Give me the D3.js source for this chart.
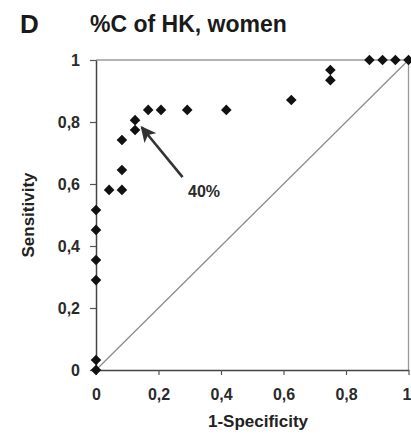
<!DOCTYPE html>
<html>
<head>
<meta charset="utf-8">
<script src="https://cdn.jsdelivr.net/npm/d3@7"></script>
<style>
  html, body { margin: 0; padding: 0; background: #fff; }
  svg { display: block; font-family: "Liberation Sans", Arial, sans-serif; }
</style>
</head>
<body>
<svg id="chart" width="411" height="434"></svg>
<script>
// ---- data ----
const fpr = [0, 0, 0, 0, 0, 0, 0.042, 0.083, 0.083, 0.083, 0.125, 0.125, 0.167, 0.208, 0.292, 0.417, 0.625, 0.75, 0.75, 0.875, 0.917, 0.958, 1];
const tpr = [0, 0.032, 0.290, 0.355, 0.452, 0.516, 0.581, 0.581, 0.645, 0.742, 0.774, 0.806, 0.839, 0.839, 0.839, 0.839, 0.871, 0.935, 0.968, 1, 1, 1, 1];
const ticks = [0, 0.2, 0.4, 0.6, 0.8, 1];
const tickLabels = ["0", "0,2", "0,4", "0,6", "0,8", "1"];
const panelLetter = "D";
const title = "%C of HK, women";
const xTitle = "1-Specificity";
const yTitle = "Sensitivity";
const annotationText = "40%";
const arrowFrom = [0.277, 0.622];
const arrowTo = [0.146, 0.783];

// ---- layout ----
const svg = d3.select("#chart");
const x = d3.scaleLinear().domain([0, 1]).range([96, 408.5]);
const y = d3.scaleLinear().domain([0, 1]).range([370, 60]);
const fmt = d => tickLabels[ticks.indexOf(d)];

// frame (top & right)
svg.append("path")
  .attr("d", `M${x(0)},${y(1)}H${x(1)}V${y(0)}`)
  .attr("fill", "none").attr("stroke", "#9a9a9a").attr("stroke-width", 1.3);

// diagonal
svg.append("line")
  .attr("x1", x(0)).attr("y1", y(0)).attr("x2", x(1)).attr("y2", y(1))
  .attr("stroke", "#8a8a8a").attr("stroke-width", 1.2);

// axes
const xAxis = svg.append("g").attr("transform", `translate(0,${y(0)})`)
  .call(d3.axisBottom(x).tickValues(ticks).tickFormat(fmt).tickSizeInner(5).tickSizeOuter(0).tickPadding(14));
const yAxis = svg.append("g").attr("transform", `translate(${x(0)},0)`)
  .call(d3.axisLeft(y).tickValues(ticks).tickFormat(fmt).tickSizeInner(6).tickSizeOuter(0).tickPadding(10));
[xAxis, yAxis].forEach(g => {
  g.select(".domain").attr("stroke", "#444").attr("stroke-width", 1.5);
  g.selectAll(".tick line").attr("stroke", "#555").attr("stroke-width", 1.2);
  g.selectAll(".tick text").attr("fill", "#2a2a2a").attr("font-size", 16).attr("font-weight", "bold")
    .attr("font-family", "'Liberation Sans', Arial, sans-serif");
});
yAxis.selectAll(".tick text").attr("dy", "0.36em");
// keep the last x label inside the picture
xAxis.selectAll(".tick text").filter(d => d === 1).attr("text-anchor", "end").attr("x", 411 - x(1));

// axis titles
svg.append("text").attr("x", 258).attr("y", 427).attr("text-anchor", "middle")
  .attr("font-size", 17).attr("font-weight", "bold").attr("fill", "#222").text(xTitle);
svg.append("text").attr("transform", `translate(34,${(y(0) + y(1)) / 2}) rotate(-90)`)
  .attr("text-anchor", "middle")
  .attr("font-size", 17).attr("font-weight", "bold").attr("fill", "#222").text(yTitle);

// titles
svg.append("text").attr("x", 20).attr("y", 33)
  .attr("font-size", 26).attr("font-weight", "bold").attr("fill", "#1a1a1a").text(panelLetter);
svg.append("text").attr("x", 90).attr("y", 32)
  .attr("font-size", 23).attr("font-weight", "bold").attr("fill", "#1a1a1a").text(title);

// points
const sym = d3.symbol().type(d3.symbolSquare).size(56);
svg.append("g").selectAll("path").data(fpr.map((v, i) => [v, tpr[i]])).join("path")
  .attr("d", sym)
  .attr("transform", d => `translate(${x(d[0])},${y(d[1])}) rotate(45)`)
  .attr("fill", "#111");

// arrow annotation
svg.append("defs").append("marker")
  .attr("id", "ah").attr("viewBox", "0 0 10 10").attr("refX", 9).attr("refY", 5)
  .attr("markerWidth", 6).attr("markerHeight", 6).attr("markerUnits", "strokeWidth")
  .attr("orient", "auto")
  .append("path").attr("d", "M0,0L10,5L0,10L2.5,5Z").attr("fill", "#333");
svg.append("line")
  .attr("x1", x(arrowFrom[0])).attr("y1", y(arrowFrom[1]))
  .attr("x2", x(arrowTo[0])).attr("y2", y(arrowTo[1]))
  .attr("stroke", "#333").attr("stroke-width", 2.6).attr("marker-end", "url(#ah)");
svg.append("text").attr("x", 188).attr("y", 197)
  .attr("font-size", 16).attr("font-weight", "bold").attr("fill", "#2a2a2a").text(annotationText);
</script>
</body>
</html>
